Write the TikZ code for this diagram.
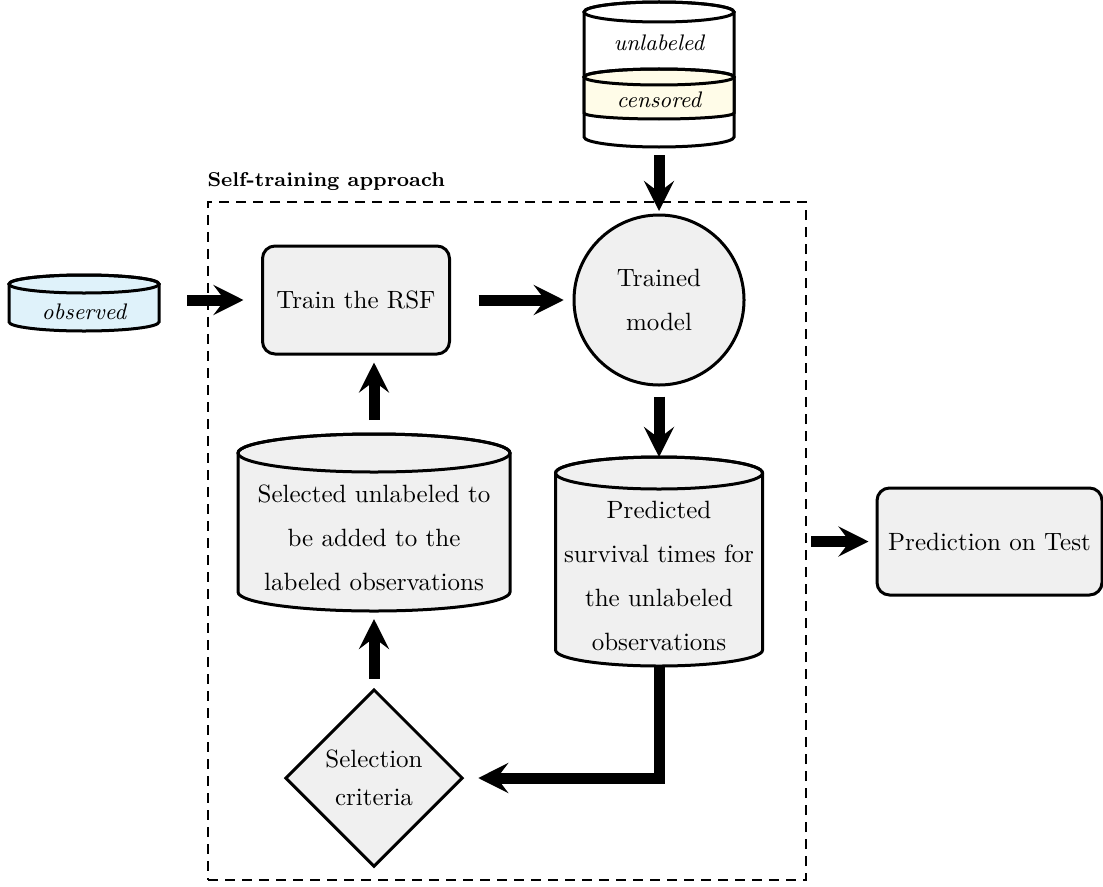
\documentclass[tikz,border=0pt]{standalone}
\usepackage{amsmath, amssymb}
\usepackage{tikz}
\usetikzlibrary{arrows.meta, shapes.geometric}

\definecolor{boxgray}{RGB}{240,240,240}
\definecolor{obsblue}{RGB}{223,242,250}
\definecolor{censyellow}{RGB}{255,252,232}

% cylinder: x centre, y top, y bottom, x radius, y radius, fill
\newcommand{\dbcyl}[6]{%
  \draw[line width=1.2pt, fill=#6] (#1-#4,#2) -- (#1-#4,#3)
    arc[start angle=180, end angle=0, x radius=#4, y radius=#5]
    -- (#1+#4,#2) arc[start angle=360, end angle=180, x radius=#4, y radius=#5] -- cycle;
  \draw[line width=1.2pt] (#1,#2) ellipse[x radius=#4, y radius=#5];
}

\begin{document}
\begin{tikzpicture}[x=0.4pt, y=-0.4pt,
    stage/.style={rectangle, rounded corners=5pt, draw, line width=1.2pt, fill=boxgray, align=center},
    model/.style={circle, draw, line width=1.2pt, fill=boxgray, minimum size=68pt, inner sep=0pt,
      align=center, font=\fontsize{10}{17.6}\selectfont},
    crit/.style={diamond, aspect=1, draw, line width=1.2pt, fill=boxgray, minimum width=71pt,
      minimum height=71pt, inner sep=0pt, align=center, font=\fontsize{10}{15}\selectfont},
    txt/.style={align=center, font=\fontsize{10}{17.6}\selectfont},
    dbtext/.style={font=\small\itshape},
    flow/.style={line width=4.4pt, -{Stealth[length=12pt, width=12pt, inset=4.5pt]}},
    stbox/.style={draw, dash pattern=on 4pt off 2.8pt, line width=0.8pt, inner sep=0pt,
      minimum width=239.2pt, minimum height=271.2pt}]
    \useasboundingbox (0,0) rectangle (1103,886);

    % unlabeled / censored data
    \dbcyl{659}{12}{137}{75}{10}{white}
    \draw[line width=1.2pt, fill=censyellow] (584,77) -- (584,113)
      arc[start angle=180, end angle=0, x radius=75, y radius=6]
      -- (734,77) arc[start angle=360, end angle=180, x radius=75, y radius=8] -- cycle;
    \draw[line width=1.2pt] (659,77) ellipse[x radius=75, y radius=8];
    \node[dbtext] (unl) at (659,43) {unlabeled};
    \node[dbtext] (cens) at (659,100) {censored};
    \coordinate (pool) at (659,155);

    % observed data
    \dbcyl{84}{284}{322}{75}{9}{obsblue}
    \node[dbtext, minimum width=60pt] (obs) at (84,312) {observed};

    \node[stbox, label={[anchor=south west, inner sep=0pt, yshift=4pt, font=\footnotesize\bfseries]north west:Self-training approach}] (stbox) at (507,541) {};

    \node[stage, minimum width=74.8pt, minimum height=43.2pt] (train) at (356,300) {Train the RSF};
    \node[model] (trained) at (659,300) {Trained\\model};

    \dbcyl{659}{473}{650}{103.5}{16}{boxgray}
    \node[txt] (pred) at (659,576) {Predicted\\survival times for\\the unlabeled\\observations};
    \coordinate (predtop) at (659,457);
    \coordinate (predbot) at (659,665);

    \dbcyl{374}{453}{592}{136}{19}{boxgray}
    \node[txt] (sel) at (374,538) {Selected unlabeled to\\be added to the\\labeled observations};
    \coordinate (seltop) at (374,433);
    \coordinate (selbot) at (374,611);

    \node[crit] (crit) at (374,778) {Selection\\criteria};

    \node[stage, minimum width=90pt, minimum height=42.8pt] (test) at (989.5,541.5) {Prediction on Test};

    \draw[flow, shorten >=1pt] (pool) -- (trained);
    \draw[flow, shorten <=11pt, shorten >=7pt] (obs.east |- train.west) -- (train.west);
    \draw[flow, shorten <=11pt, shorten >=3.5pt] (train.east) -- (trained.west);
    \draw[flow, shorten <=4pt] (trained) -- (predtop);
    \draw[flow, shorten >=5.6pt] (predbot) |- (crit.east);
    \draw[flow, shorten <=3.6pt, shorten >=3.2pt] (crit.north) -- (selbot);
    \draw[flow, shorten <=5.2pt, shorten >=2.8pt] (seltop) -- (seltop |- train.south);
    \draw[flow, shorten <=1.6pt, shorten >=2.8pt] (stbox.east |- test.west) -- (test.west);
\end{tikzpicture}
\end{document}
